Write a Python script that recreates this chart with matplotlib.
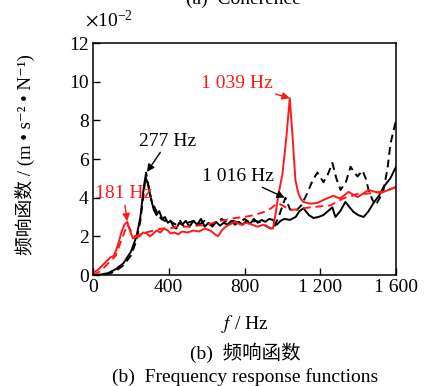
import matplotlib
matplotlib.use("Agg")
import matplotlib.pyplot as plt

plt.rcParams['font.family'] = ['Liberation Serif', 'Noto Sans CJK SC', 'DejaVu Sans']
plt.rcParams['mathtext.fontset'] = 'stix'

# ---- data (values in units of 1e-2) ----
f_black_solid = [0, 40, 80, 120, 160, 200, 230, 250, 265, 277, 290, 305, 320, 335, 350, 365, 380, 395, 410, 425,
                 440, 455, 470, 490, 510, 530, 550, 570, 590, 610, 630, 650, 670, 690, 710, 730, 750, 770, 790, 810,
                 830, 850, 870, 890, 910, 930, 950, 970, 990, 1010, 1040, 1070, 1090, 1111, 1140, 1164, 1190, 1217,
                 1240, 1264, 1280, 1305, 1333, 1355, 1376, 1400, 1429, 1455, 1481, 1510, 1534, 1570, 1600]
v_black_solid = [0, 0.02, 0.1, 0.3, 0.6, 1.2, 2.0, 3.0, 4.3, 5.1, 4.7, 4.0, 3.4, 3.1, 3.3, 2.9, 3.0, 2.7, 2.8, 2.5,
                 2.4, 2.7, 2.6, 2.8, 2.5, 2.8, 2.6, 2.9, 2.5, 2.7, 2.5, 2.75, 2.55, 2.7, 2.6, 2.8, 2.6, 2.75, 2.6, 2.8,
                 2.65, 2.9, 2.7, 2.85, 2.75, 2.9, 2.85, 2.6, 2.8, 2.9, 2.85, 3.0, 3.3, 3.45, 3.1, 2.95, 3.0, 3.1,
                 3.3, 3.5, 3.0, 3.3, 3.78, 3.5, 3.26, 3.1, 3.0, 3.3, 3.72, 4.1, 4.55, 5.0, 5.6]

f_black_dash = [0, 40, 80, 120, 160, 200, 230, 250, 265, 280, 295, 310, 325, 340, 360, 380, 400, 420, 440, 460,
                480, 500, 530, 560, 590, 620, 650, 680, 710, 740, 770, 800, 830, 860, 890, 920, 950, 980, 1016, 1040,
                1070, 1100, 1130, 1160, 1185, 1217, 1240, 1264, 1285, 1307, 1335, 1360, 1380, 1397, 1423, 1440,
                1455, 1475, 1492, 1515, 1534, 1555, 1571, 1600]
v_black_dash = [0, 0.01, 0.05, 0.2, 0.5, 1.0, 1.8, 2.8, 4.0, 5.3, 4.5, 3.8, 3.5, 3.2, 2.9, 2.8, 2.9, 2.7, 2.6, 2.8,
                2.5, 2.7, 2.8, 2.6, 2.8, 2.6, 2.7, 2.9, 2.7, 2.8, 2.7, 2.9, 2.7, 2.8, 2.7, 2.5, 2.35, 3.0, 4.0, 3.4,
                3.3, 3.6, 4.2, 4.9, 5.3, 4.8, 5.2, 5.8, 5.0, 4.4, 4.8, 5.6, 5.3, 5.1, 5.4, 5.0,
                4.4, 3.9, 3.6, 4.0, 4.4, 5.5, 6.8, 8.0]

f_red_solid = [0, 30, 60, 90, 110, 130, 150, 165, 181, 195, 210, 225, 245, 265, 283, 300, 315, 335, 355, 375,
               395, 410, 430, 450, 470, 500, 530, 560, 590, 620, 645, 660, 680, 700, 720, 750, 780, 810, 840, 870,
               900, 930, 950, 965, 980, 1000, 1020, 1039, 1055, 1069, 1085, 1100, 1111, 1140, 1164, 1190, 1217,
               1245, 1270, 1290, 1307, 1330, 1349, 1375, 1397, 1425, 1455, 1490, 1519, 1560, 1600]
v_red_solid = [0.1, 0.3, 0.6, 0.9, 1.0, 1.5, 2.2, 2.6, 2.75, 2.3, 1.9, 1.95, 2.0, 2.2, 2.15, 2.0, 2.1, 2.3, 2.2, 2.4,
               2.3, 2.15, 2.2, 2.1, 2.25, 2.2, 2.3, 2.25, 2.4, 2.3, 2.1, 2.0, 2.3, 2.5, 2.6, 2.75, 2.6, 2.7, 2.6, 2.5,
               2.6, 2.45, 2.4, 3.2, 4.2, 5.2, 7.0, 9.15, 7.0, 4.9, 4.2, 3.9, 3.78, 3.7, 3.7, 3.75, 3.88,
               4.0, 4.1, 4.0, 3.98, 4.15, 4.3, 4.15, 4.03, 4.2, 4.4, 4.3, 4.24, 4.4, 4.55]

f_red_dash = [0, 30, 60, 90, 120, 150, 181, 200, 220, 250, 280, 320, 360, 400, 450, 500, 550, 603, 650, 700,
              750, 800, 850, 900, 940, 973, 1000, 1042, 1080, 1110, 1148, 1200, 1254, 1290, 1330, 1370, 1397,
              1440, 1480, 1519, 1560, 1600]
v_red_dash = [0, 0.15, 0.4, 0.7, 1.0, 1.8, 2.6, 2.3, 2.0, 2.1, 2.2, 2.3, 2.4, 2.4, 2.5, 2.5, 2.55, 2.6, 2.75, 2.85,
              2.95, 3.0, 3.1, 3.25, 3.45, 3.72, 3.6, 3.36, 3.4, 3.45, 3.5, 3.55, 3.6, 3.8, 4.0, 4.1, 4.2,
              4.2, 4.25, 4.3, 4.4, 4.55]

x_ticks = [0, 400, 800, 1200, 1600]
x_tick_labels = ['0', '400', '800', '1 200', '1 600']
y_ticks = [0, 2, 4, 6, 8, 10, 12]
y_tick_labels = ['0', '2', '4', '6', '8', '10', '12']

# ---- figure ----
W, H = 424, 386
FS = 14
fig = plt.figure(figsize=(W / 100, H / 100), dpi=100)
ax = fig.add_axes([93 / W, 1 - 275 / H, (396 - 93) / W, (275 - 43) / H])

red = '#ff1a1a'
lw = 1.4
ax.plot(f_black_solid, v_black_solid, color='black', lw=lw)
ax.plot(f_black_dash, v_black_dash, color='black', lw=lw, ls=(0, (4, 2.5)))
ax.plot(f_red_dash, v_red_dash, color=red, lw=lw, ls=(0, (4, 2.5)))
ax.plot(f_red_solid, v_red_solid, color=red, lw=lw)

ax.set_xlim(0, 1600)
ax.set_ylim(0, 12)
ax.set_xticks(x_ticks)
ax.set_xticklabels(x_tick_labels)
ax.set_yticks(y_ticks)
ax.set_yticklabels(y_tick_labels)
ax.tick_params(direction='in', labelsize=FS, length=5, width=1, pad=3)
for s in ax.spines.values():
    s.set_linewidth(1.1)

fig.text(25 / W, 1 - 155 / H, '频响函数 / (m • s⁻² • N⁻¹)', fontsize=FS - 0.5,
         rotation=90, ha='center', va='center')

arrow = dict(arrowstyle='-|>', color='black', lw=1, mutation_scale=11, shrinkA=0, shrinkB=0)
arrow_r = dict(arrow, color=red)
ax.annotate('1 039 Hz', xy=(1039, 9.15), xytext=(760, 9.93), color=red, fontsize=FS,
            ha='center', va='center', arrowprops=arrow_r)
ax.annotate('277 Hz', xy=(285, 5.33), xytext=(396, 6.93), color='black', fontsize=FS,
            ha='center', va='center', arrowprops=arrow)
ax.annotate('1 016 Hz', xy=(1012, 4.0), xytext=(766, 5.12), color='black', fontsize=FS,
            ha='center', va='center', arrowprops=arrow)
ax.annotate('181 Hz', xy=(181, 2.78), xytext=(160, 4.19), color=red, fontsize=FS,
            ha='center', va='center', arrowprops=arrow_r, annotation_clip=False)

fig.text(85 / W, 1 - 20 / H, r'$\times\mathregular{10^{-2}}$', fontsize=FS, ha='left', va='center')
fig.text(245 / W, 1 - 324 / H, r'$f$ / Hz', fontsize=FS, ha='center', va='center')
fig.text(245 / W, 1 - 353 / H, '(b)  频响函数', fontsize=FS, ha='center', va='center')
fig.text(245 / W, 1 - 377 / H, '(b)  Frequency response functions', fontsize=FS, ha='center', va='center')
fig.text(243 / W, 1 + 1 / H, '(a)  Coherence', fontsize=FS, ha='center', va='center')

fig.savefig('out.png', dpi=100)
